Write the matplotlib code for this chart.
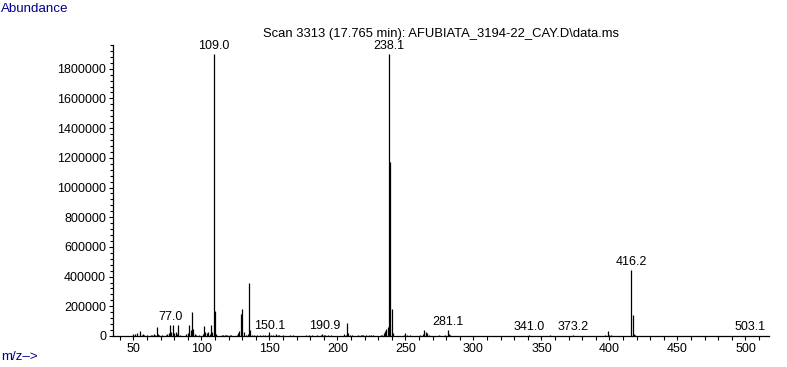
import matplotlib
matplotlib.use("Agg")
import matplotlib.pyplot as plt
from matplotlib.ticker import MultipleLocator

plt.rcParams['font.family'] = ['Liberation Sans', 'DejaVu Sans']

mz = [50, 51, 53, 55, 56, 57, 58, 60, 63, 64, 65, 66, 67, 68, 69, 71, 74, 75, 76, 77,
      78, 79, 80, 81, 82, 83, 84, 89, 90, 91, 92, 93, 94, 95, 96, 98, 101, 102, 103, 104,
      105, 106, 107, 108, 109, 110, 111, 115, 116, 117, 118, 119, 121, 122, 126, 127, 128,
      129, 130, 131, 133, 134, 135, 136, 137, 139, 141, 143, 145, 147, 149, 150, 151, 153,
      155, 156, 157, 160, 165, 167, 177, 179, 181, 185, 188, 189, 190, 191, 193, 195, 205,
      206, 207, 208, 209, 211, 215, 217, 218, 219, 221, 223, 225, 226, 232, 233, 234, 235,
      236, 237, 238, 239, 240, 241, 249, 250, 251, 253, 261, 263, 264, 265, 266, 267, 275,
      279, 281, 282, 283, 295, 307, 327, 341, 355, 356, 373, 374, 391, 397, 399, 400, 401,
      416, 417, 418, 419, 503]
abundance = [12000, 15000, 20000, 34000, 8000, 12000, 6000, 5000, 8000, 6000, 15000, 10000,
             63000, 12000, 10000, 6000, 8000, 12000, 20000, 76000, 25000, 76000, 20000, 30000,
             15000, 76000, 8000, 15000, 20000, 76000, 40000, 164000, 45000, 15000, 8000, 10000,
             15000, 65000, 30000, 20000, 25000, 15000, 76000, 25000, 1900000, 168000, 12000,
             10000, 6000, 10000, 8000, 8000, 6000, 5000, 10000, 20000, 34000, 150000, 180000,
             25000, 10000, 15000, 355000, 40000, 10000, 6000, 5000, 5000, 5000, 6000, 6000,
             25000, 10000, 6000, 12000, 10000, 6000, 5000, 5000, 4000, 6000, 5000, 8000, 6000,
             5000, 12000, 8000, 10000, 6000, 5000, 15000, 10000, 85000, 20000, 10000, 5000,
             6000, 8000, 6000, 8000, 8000, 10000, 8000, 6000, 6000, 10000, 20000, 35000, 45000,
             60000, 1900000, 1175000, 185000, 20000, 6000, 18000, 8000, 5000, 8000, 15000,
             38000, 25000, 20000, 10000, 4000, 6000, 43000, 12000, 5000, 3000, 3000, 3000,
             4000, 3000, 8000, 6000, 3000, 3000, 5000, 31000, 10000, 5000, 447000, 139000,
             15000, 4000, 3000]

label_mz = [77.0, 109.0, 150.1, 190.9, 238.1, 281.1, 341.0, 373.2, 416.2, 503.1]
label_y = [76000, 1900000, 10000, 10000, 1900000, 43000, 4000, 6000, 447000, 3000]

title = "Scan 3313 (17.765 min): AFUBIATA_3194-22_CAY.D\\data.ms"
blue = '#000090'

fig = plt.figure(figsize=(7.87, 3.67), dpi=100)
ax = fig.add_axes([113/787, 1-336/367, (769-113)/787, (336-44.5)/367])

ax.vlines(mz, 0, abundance, colors='black', linewidth=0.9)

for m, y in zip(label_mz, label_y):
    ax.annotate(f"{m:.1f}", xy=(m, y), xytext=(0, 1.5), textcoords='offset points',
                ha='center', va='bottom', fontsize=9, annotation_clip=False)

ax.set_xlim(35, 517.3)
ax.set_ylim(0, 1963000)
ax.xaxis.set_major_locator(MultipleLocator(50))
ax.xaxis.set_minor_locator(MultipleLocator(10))
ax.yaxis.set_major_locator(MultipleLocator(200000))
ax.yaxis.set_minor_locator(MultipleLocator(40000))
ax.yaxis.set_major_formatter(matplotlib.ticker.FuncFormatter(lambda v, p: f"{int(round(v))}"))
ax.xaxis.set_major_formatter(matplotlib.ticker.FuncFormatter(lambda v, p: f"{int(round(v))}"))

for s in ['top', 'right']:
    ax.spines[s].set_visible(False)
for s in ['left', 'bottom']:
    ax.spines[s].set_linewidth(0.9)

ax.tick_params(axis='both', which='major', labelsize=9, width=0.8, length=3, pad=2)
ax.tick_params(axis='both', which='minor', width=0.8, length=2)
ax.tick_params(axis='x', which='minor', length=3)

fig.text(441/787, 1-34/367, title, ha='center', va='center', fontsize=9.4)
fig.text(0.001, 1-9/367, "Abundance", ha='left', va='center', fontsize=9.6, color=blue)
fig.text(0.001, 1-357/367, "m/z\u2013>", ha='left', va='center', fontsize=9.6, color=blue)

fig.savefig("out.png", dpi=100)
